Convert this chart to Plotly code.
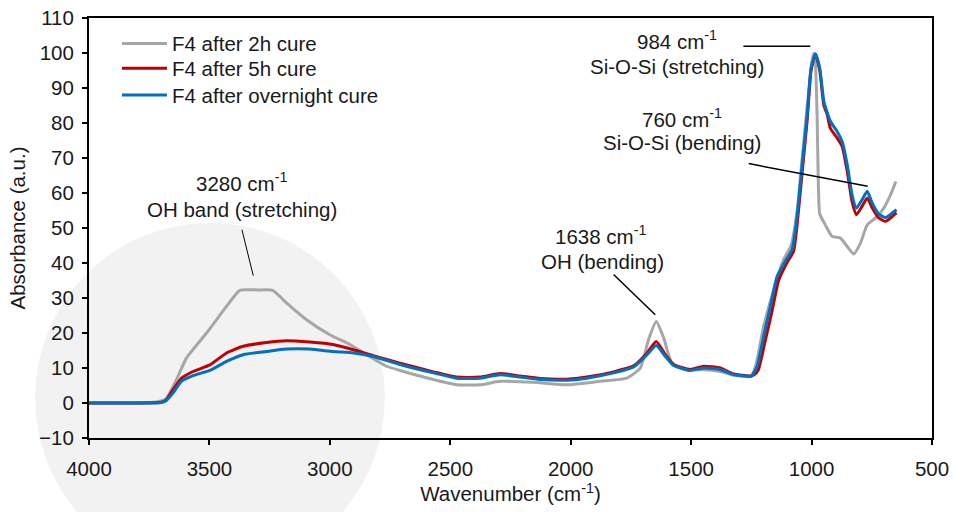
import plotly.graph_objects as go

# ---------------- data ----------------
wn_2h = [4000, 3800, 3720, 3690, 3678, 3637, 3595, 3512, 3429, 3374, 3300, 3237, 3180, 3097, 3000,
         2917, 2847, 2764, 2709, 2570, 2473, 2376, 2293, 2155, 2016, 1878, 1767, 1711, 1677, 1645,
         1614, 1580, 1517, 1448, 1379, 1324, 1254, 1240, 1226, 1199, 1157, 1116, 1085, 1060, 1039,
         1018, 1000, 991, 984, 977, 972, 966, 943, 915, 880, 852, 825, 797, 769, 734, 700, 672, 650]
abs_2h = [0, 0, 0.3, 0.8, 1.4, 6.7, 12.9, 20.0, 27.6, 32.2, 32.3, 32.2, 28.6, 23.8, 19.5,
          16.7, 13.8, 10.5, 9.3, 6.7, 5.2, 5.2, 6.2, 5.9, 5.2, 6.2, 7.1, 10.0, 18.1, 23.3,
          18.6, 11.4, 9.5, 9.5, 9.0, 7.9, 7.6, 9.0, 12.4, 21.9, 32.4, 41.0, 45.0, 55.0, 70.0,
          85.0, 97.0, 100.0, 97.0, 82.0, 63.0, 54.0, 50.9, 47.6, 47.1, 44.7, 42.6, 45.7, 50.9, 52.9, 55.7, 59.5, 63.3]

wn_5h = [4000, 3800, 3700, 3678, 3651, 3616, 3568, 3498, 3429, 3360, 3263, 3180, 3083, 2987, 2902,
         2820, 2709, 2570, 2473, 2376, 2293, 2210, 2127, 2016, 1933, 1822, 1739, 1683, 1645, 1607,
         1573, 1504, 1448, 1379, 1324, 1254, 1240, 1221, 1195, 1165, 1137, 1103, 1075, 1060, 1039,
         1018, 1002, 984, 966, 949, 935, 922, 894, 873, 852, 832, 814, 790, 769, 748, 721, 693, 665, 647]
abs_5h = [0, 0, 0.2, 1.0, 3.8, 7.1, 9.0, 10.9, 14.3, 16.2, 17.3, 17.8, 17.4, 16.7, 15.2,
          13.5, 11.4, 8.9, 7.4, 7.4, 8.4, 7.7, 7.0, 6.8, 7.4, 8.9, 10.6, 14.3, 17.6, 13.8,
          11.0, 9.6, 10.5, 10.0, 8.3, 7.7, 8.0, 9.5, 17.0, 26.0, 35.0, 40.0, 43.3, 51.0, 66.0,
          81.0, 95.0, 99.7, 95.0, 85.0, 82.4, 78.5, 75.7, 73.3, 66.2, 57.6, 53.8, 56.2, 58.6, 55.7, 52.9, 51.9, 53.3, 54.3]

wn_on = [4000, 3800, 3700, 3678, 3651, 3616, 3568, 3498, 3429, 3360, 3263, 3180, 3083, 2987, 2902,
         2820, 2709, 2570, 2473, 2376, 2293, 2210, 2127, 2016, 1933, 1822, 1739, 1683, 1645, 1607,
         1573, 1504, 1448, 1379, 1324, 1254, 1247, 1226, 1199, 1171, 1143, 1109, 1081, 1067, 1053,
         1039, 1018, 1002, 984, 966, 949, 922, 894, 873, 852, 832, 814, 790, 769, 748, 721, 693, 665, 647]
abs_on = [0, 0, 0.1, 0.8, 2.9, 6.2, 7.8, 9.3, 11.9, 13.8, 14.7, 15.4, 15.4, 14.7, 14.3,
          13.3, 11.0, 8.6, 7.1, 7.1, 8.1, 7.4, 6.7, 6.5, 7.1, 8.6, 10.3, 13.8, 16.4, 13.3,
          10.7, 9.3, 10.0, 9.5, 8.1, 7.6, 7.8, 10.5, 19.0, 27.6, 36.2, 40.5, 43.8, 49.5, 58.1,
          68.1, 82.4, 95.7, 99.7, 95.7, 86.2, 80.5, 77.6, 74.7, 68.1, 59.5, 55.7, 58.1, 60.5, 57.1, 54.0, 53.0, 54.3, 55.2]

series_names = ["F4 after 2h cure", "F4 after 5h cure", "F4 after overnight cure"]
series_colors = ["#a6a6a6", "#c00000", "#0070c0"]

x_ticks = [4000, 3500, 3000, 2500, 2000, 1500, 1000, 500]
y_ticks = list(range(-10, 111, 10))

# annotation labels: (wavenumber, absorbance, text)
label_text = [
    (1557, 103.8, "984 cm<sup>-1</sup>"),
    (1557, 96.1, "Si-O-Si (stretching)"),
    (1537, 81.5, "760 cm<sup>-1</sup>"),
    (1537, 74.4, "Si-O-Si (bending)"),
    (3365, 63.2, "3280 cm<sup>-1</sup>"),
    (3365, 55.2, "OH band (stretching)"),
    (1877, 48.1, "1638 cm<sup>-1</sup>"),
    (1869, 40.4, "OH (bending)"),
]
# leader lines: (x0, y0, x1, y1, width)
leader_lines = [
    (1283, 101.9, 1005, 101.9, 1.5),
    (1261, 68.4, 767, 61.9, 1.5),
    (3365, 49.5, 3318, 36.4, 1.0),
    (1822, 36.7, 1649, 25.2, 1.5),
]

FONT = "Liberation Sans, Arial, sans-serif"
TXT = "#1a1a1a"
FS = 20.5

legend_ids = ["legend", "legend2", "legend3"]
legend_rows = [0.939, 0.880, 0.816]  # paper y of each legend row

fig = go.Figure()
for wn, ab, name, col, lg in zip([wn_2h, wn_5h, wn_on], [abs_2h, abs_5h, abs_on],
                                 series_names, series_colors, legend_ids):
    fig.add_trace(go.Scatter(x=wn, y=ab, mode="lines", name=name, legend=lg,
                             line=dict(color=col, width=3, shape="spline", smoothing=0.5)))

# background circle (decoration)
fig.add_shape(type="circle", xref="paper", yref="paper",
              x0=-0.064, x1=0.351, y0=-0.321, y1=0.512,
              fillcolor="#f2f2f2", line=dict(width=0), layer="below")

for x0, y0, x1, y1, w in leader_lines:
    fig.add_shape(type="line", xref="x", yref="y", x0=x0, y0=y0, x1=x1, y1=y1,
                  line=dict(color="black", width=w))

for x, y, t in label_text:
    fig.add_annotation(x=x, y=y, xref="x", yref="y", text=t, showarrow=False,
                       font=dict(family=FONT, size=FS, color=TXT), xanchor="center", yanchor="middle")

axis_common = dict(showline=True, linecolor="black", linewidth=2, mirror=True,
                   ticks="outside", ticklen=5, tickwidth=2, tickcolor="black",
                   showgrid=False, zeroline=False, automargin=False,
                   tickfont=dict(family=FONT, size=FS, color=TXT))

legend_common = dict(x=0.0332, xanchor="left", yanchor="middle", itemwidth=45,
                     bgcolor="rgba(0,0,0,0)", borderwidth=0,
                     font=dict(family=FONT, size=FS, color=TXT))

fig.update_layout(
    width=953, height=512,
    margin=dict(l=89, r=21, t=18, b=74),
    paper_bgcolor="white", plot_bgcolor="rgba(0,0,0,0)",
    font=dict(family=FONT, size=FS, color=TXT),
    showlegend=True,
    legend=dict(y=legend_rows[0], **legend_common),
    legend2=dict(y=legend_rows[1], **legend_common),
    legend3=dict(y=legend_rows[2], **legend_common),
    xaxis=dict(range=[4000, 500], tickvals=x_ticks, ticktext=[str(v) for v in x_ticks],
               ticklabelstandoff=6,
               title=dict(text="Wavenumber (cm<sup>-1</sup>)", font=dict(family=FONT, size=FS, color=TXT), standoff=6),
               **axis_common),
    yaxis=dict(range=[-10, 110], tickvals=y_ticks, ticklabelstandoff=4,
               title=dict(text="Absorbance (a.u.)", font=dict(family=FONT, size=FS, color=TXT), standoff=8),
               **axis_common),
)

fig.write_html("out.html")
